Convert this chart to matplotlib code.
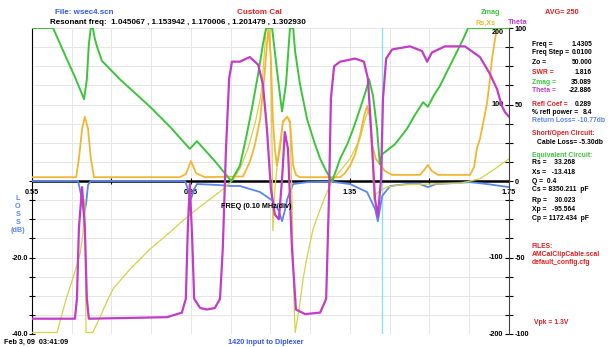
import numpy as np
import matplotlib.pyplot as plt

plt.rcParams['font.family'] = ['Liberation Sans', 'DejaVu Sans']
plt.rcParams['font.weight'] = 'bold'

# sweep, freq in MHz
zmag_f = [0.550, 0.603, 0.620, 0.638, 0.658, 0.681, 0.688, 0.693, 0.698, 0.703, 0.708, 0.714, 0.726, 0.771,
          0.847, 0.897, 0.947, 0.965, 1.010, 1.051, 1.073, 1.088, 1.103, 1.119, 1.131, 1.139, 1.154, 1.166,
          1.179, 1.189, 1.199, 1.207, 1.212, 1.224, 1.242, 1.260, 1.275, 1.290, 1.305, 1.315, 1.325, 1.343,
          1.358, 1.375, 1.390, 1.398, 1.408, 1.418, 1.425, 1.431, 1.463, 1.493, 1.513, 1.534, 1.546, 1.561,
          1.576, 1.597, 1.619, 1.637, 1.647, 1.750]
zmag = [200, 200, 180, 159, 136, 107, 133, 179, 200, 200, 186, 175, 157, 133, 97, 71, 42, 52, 26, 0, 20, 55,
        94, 140, 179, 200, 200, 146, 91, 127, 200, 200, 169, 127, 81, 51, 29, 13, 0, 14, 29, 48, 68, 94, 118,
        133, 111, 68, 22, 35, 48, 68, 86, 103, 97, 112, 124, 146, 169, 188, 200, 200]

rs_f = [0.550, 0.661, 0.668, 0.676, 0.683, 0.691, 0.698, 0.706, 0.922, 0.937, 0.950, 0.963, 0.985, 1.081,
        1.098, 1.111, 1.124, 1.134, 1.141, 1.145, 1.151, 1.156, 1.161, 1.166, 1.174, 1.181, 1.192, 1.199,
        1.204, 1.207, 1.214, 1.224, 1.325, 1.337, 1.350, 1.363, 1.375, 1.385, 1.393, 1.400, 1.405, 1.415,
        1.425, 1.438, 1.456, 1.526, 1.539, 1.546, 1.556, 1.571, 1.652, 1.662, 1.669, 1.677, 1.687, 1.695,
        1.702, 1.707, 1.715, 1.720, 1.750]
rs = [5, 5, 29, 68, 84, 68, 29, 5, 5, 9, 26, 10, 5, 6, 25, 48, 81, 133, 179, 200, 159, 81, 42, 20, 42, 78,
      84, 78, 42, 20, 8, 5, 5, 10, 20, 35, 59, 84, 98, 84, 48, 29, 22, 13, 8, 8, 16, 21, 13, 8, 8, 18, 42, 55,
      81, 103, 133, 159, 186, 200, 200]

xs_f = [0.550, 0.613, 0.636, 0.656, 0.671, 0.678, 0.683, 0.686, 0.703, 0.721, 0.739, 0.754, 0.797, 0.847,
        0.897, 0.947, 0.997, 1.028, 1.053, 1.073, 1.093, 1.111, 1.124, 1.129, 1.139, 1.149, 1.154, 1.156,
        1.161, 1.171, 1.181, 1.192, 1.199, 1.204, 1.209, 1.212, 1.222, 1.232, 1.242, 1.257, 1.275, 1.290,
        1.305, 1.325, 1.350, 1.375, 1.390, 1.398, 1.405, 1.410, 1.415, 1.425, 1.441, 1.476, 1.551, 1.627,
        1.677, 1.715, 1.750]
xs = [-198, -198, -154, -122, -95, -69, -24, -198, -198, -178, -157, -141, -115, -89, -67, -44, -24, -12, 0,
      16, 42, 75, 107, 127, 200, 200, 42, -65, -10, 42, 75, 84, 75, -24, -154, -198, -167, -128, -99, -63,
      -37, -17, 0, 13, 29, 55, 84, 94, 55, -24, -17, -13, -8, -5, -4, -3, 3, 16, 29]

theta_f = [0.550, 0.658, 0.663, 0.668, 0.676, 0.683, 0.688, 0.693, 0.890, 0.927, 0.937, 0.942, 0.947, 0.953,
           0.958, 0.973, 0.990, 1.010, 1.023, 1.030, 1.038, 1.046, 1.053, 1.073, 1.098, 1.119, 1.131, 1.141,
           1.151, 1.161, 1.171, 1.179, 1.186, 1.194, 1.204, 1.214, 1.237, 1.275, 1.290, 1.297, 1.302, 1.310,
           1.325, 1.363, 1.385, 1.395, 1.403, 1.413, 1.420, 1.428, 1.433, 1.441, 1.456, 1.501, 1.531, 1.544,
           1.556, 1.589, 1.639, 1.677, 1.702, 1.720, 1.732, 1.740, 1.750]
theta = [-90, -90, -77, -31, -4, -31, -77, -90, -89, -86, -77, -31, -2, -38, -77, -83, -84, -83, -77, -44,
         21, 67, 78, 78, 81, 76, 63, 34, -5, -22, -25, 1, 32, 21, -44, -84, -87, -86, -77, -12, 54, 75, 78,
         80, 78, 67, 34, -12, -23, 1, 54, 80, 86, 88, 85, 78, 84, 88, 88, 81, 70, 60, 49, 45, 42]

rl_f = [0.550, 0.666, 0.673, 0.681, 0.686, 0.691, 0.698, 0.935, 0.942, 0.950, 0.958, 0.965, 1.010, 1.053,
        1.073, 1.124, 1.156, 1.171, 1.179, 1.186, 1.192, 1.207, 1.242, 1.305, 1.350, 1.393, 1.413, 1.420,
        1.431, 1.451, 1.493, 1.526, 1.546, 1.566, 1.652, 1.695, 1.750]
rl = [0, 0, -3.4, -8.6, -6.0, -1.0, 0, 0, -2.1, -4.7, -2.1, -0.8, -1.0, -1.3, -1.3, -2.9, -5.2, -7.8, -10.5,
      -7.8, -4.7, -0.8, -0.3, -0.2, -0.8, -2.9, -7.3, -10.5, -3.9, -1.3, -0.8, -0.8, -1.6, -0.8, -0.3, -0.8,
      -1.6]

cursor_freq = 1.4305
resonant = [1.045067, 1.153942, 1.170006, 1.201479, 1.302930]
freq_labels = [0.55, 0.95, 1.35, 1.75]
ohm_labels = [200, 100, -100, -200]
theta_labels = [100, 50, 0, -50, -100]

GREEN = '#3cc43c'
ORANGE = '#f2b634'
YELLOW = '#d6d244'
MAGENTA = '#c23cc8'
BLUE = '#5a86f0'
RED = '#e02020'
FS = 5.2      # axis labels
FS_HEAD = 5.8  # header line
FS_PANEL = 4.9  # readout panel

W, H = 613, 347
fig = plt.figure(figsize=(W / 100, H / 100), dpi=100)


def t(x, y, s, c='black', size=FS, **kw):
    # place text at screen pixel position (x from left, y from top)
    fig.text(x / W, 1 - y / H, s, color=c, fontsize=size, va='center', **kw)


ax = fig.add_axes([32 / W, 13 / H, 477 / W, 306 / H])
ax.set_xlim(0.55, 1.75)
ax.set_ylim(-40, 40)
axz = ax.twinx()
axz.set_ylim(-200, 200)
axt = ax.twinx()
axt.set_ylim(-100, 100)

for a in (ax, axz, axt):
    a.spines['top'].set_visible(False)
    a.spines['bottom'].set_visible(False)
ax.spines['right'].set_visible(False)
axz.spines['left'].set_visible(False)
axt.spines['left'].set_visible(False)
axt.spines['right'].set_visible(False)

# grid
ax.set_xticks(np.arange(0.55, 1.76, 0.1))
ax.tick_params(axis='x', length=0, labelbottom=False)
ax.set_yticks(np.arange(-40, 41, 5))
ax.set_yticklabels(['-40.0' if v == -40 else '-20.0' if v == -20 else '' for v in np.arange(-40, 41, 5)])
ax.tick_params(axis='y', direction='inout', length=4, width=0.8, labelsize=FS, pad=1)
for tk, v in zip(ax.yaxis.get_major_ticks(), np.arange(-40, 41, 5)):
    if v > 0:
        tk.tick1line.set_visible(False)
ax.grid(color='#e6e6e6', lw=0.7)
ax.set_axisbelow(True)

axz.set_yticks(np.arange(-200, 201, 25))
axz.tick_params(axis='y', direction='inout', length=6, width=0.8, labelright=False)
axz.spines['right'].set_color('#404040')
axt.set_yticks(theta_labels)
axt.set_yticklabels([str(v) for v in theta_labels])
axt.tick_params(axis='y', length=0, labelsize=FS, pad=4)

for v in ohm_labels:
    axz.annotate(str(v), xy=(1, v), xycoords=axz.get_yaxis_transform(), xytext=(-4, -3 if v == 200 else 0),
                 textcoords='offset points', ha='right', va='center', fontsize=FS)

# zero line, freq ticks and cursor
ax.axhline(0, color='black', lw=1.8, zorder=2)
ax.plot(np.arange(0.55, 1.76, 0.2), np.zeros(7), ls='none', marker='|', ms=5, mew=0.8, color='black', zorder=2)
for f in freq_labels:
    ax.annotate(f'{f:.2f}', xy=(f, 0), xytext=(0, -8), textcoords='offset points',
                ha='center', va='center', fontsize=FS)
ax.axvline(cursor_freq, color='#8fe0ee', lw=1.0, zorder=1)

ax.plot(rl_f, rl, color=BLUE, lw=1.3, zorder=3)
axz.plot(xs_f, xs, color=YELLOW, lw=0.9)
axz.plot(rs_f, rs, color=ORANGE, lw=1.3)
axz.plot(zmag_f, zmag, color=GREEN, lw=1.4)
axt.plot(theta_f, theta, color=MAGENTA, lw=1.6)

# header
t(55, 12, 'File: wsec4.scn', '#3355ee', FS_HEAD)
t(237, 12, 'Custom Cal', RED, FS_HEAD)
t(50, 23, 'Resonant freq:  ' + ' , '.join(f'{r:.6f}' for r in resonant), size=FS_HEAD)
t(481, 12, 'Zmag', GREEN)
t(545, 12, 'AVG= 250', RED)
t(476, 23, 'Rs,Xs', ORANGE)
t(508, 23, 'Theta', MAGENTA)

# left axis caption
for y, s in zip([198, 206, 214, 222, 230], ['L', 'O', 'S', 'S', '(dB)']):
    t(18, y, s, BLUE, ha='center')
t(256, 206, 'FREQ (0.10 MHz/div)', ha='center')

# readout panel
readout = [(45, 'Freq =', 'black', '1.4305'), (53, 'Freq Step =', 'black', '0.0100'),
           (62, 'Zo =', 'black', '50.000'), (73, 'SWR =', RED, '1.816'),
           (82, 'Zmag =', GREEN, '35.089'), (90, 'Theta =', MAGENTA, '-22.886'),
           (105, 'Refl Coef =', RED, '0.289'), (112, '% refl power =', 'black', '8.4')]
for y, lab, c, val in readout:
    t(532, y, lab, c, FS_PANEL)
    t(592, y, val, size=FS_PANEL, ha='right')
t(532, 120, 'Return Loss= -10.77db', BLUE, FS_PANEL)
t(532, 133, 'Short/Open Circuit:', RED, FS_PANEL)
t(537, 142, 'Cable Loss= -5.30db', size=FS_PANEL)
t(532, 155, 'Equivalent Circuit:', GREEN, FS_PANEL)
equiv = [(163, 'Rs =    33.268'), (172, 'Xs =   -13.418'), (181, 'Q =  0.4'),
         (190, 'Cs = 8350.211  pF'), (201, 'Rp =    30.023'), (210, 'Xp =   -95.564'),
         (218, 'Cp = 1172.434  pF')]
for y, s in equiv:
    t(532, y, s, size=FS_PANEL)
t(532, 246, 'FILES:', RED, FS_PANEL)
t(532, 255, 'AMCalClipCable.scal', RED, FS_PANEL)
t(532, 263, 'default_config.cfg', RED, FS_PANEL)
t(534, 322, 'Vpk = 1.3V', RED, FS_PANEL)

# footer
t(4, 342, 'Feb 3, 09  03:41:09')
t(228, 342, '1420 input to Diplexer', '#3355ee')

fig.savefig('out.png', dpi=100)
